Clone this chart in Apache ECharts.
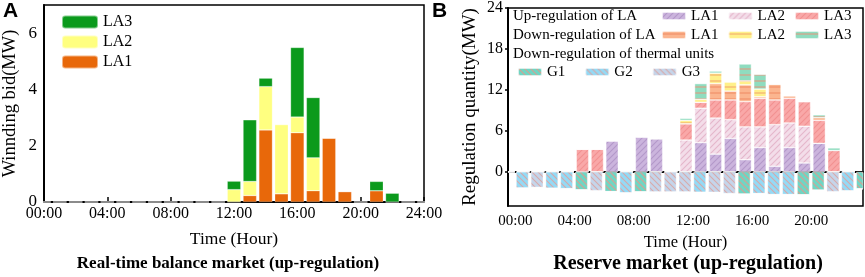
<!DOCTYPE html>
<html>
<head>
<meta charset="utf-8">
<script src="https://cdn.jsdelivr.net/npm/echarts@6/dist/echarts.min.js"></script>
<style>html,body{margin:0;padding:0;background:#fff}#chart{width:865px;height:277px}</style>
</head>
<body>
<div id="chart"></div>
<script>
"use strict";
/*global echarts*/

// A: real-time balance market, winning bids (MW) per hour
var bidHours = [12, 13, 14, 15, 16, 17, 18, 19, 20, 21, 22];
var bidLA1 = [0, 0.23, 2.56, 0.29, 2.46, 0.40, 2.27, 0.37, 0, 0.40, 0];
var bidLA2 = [0.44, 0.50, 1.54, 2.46, 0.56, 1.17, 0, 0, 0, 0, 0];
var bidLA3 = [0.30, 2.19, 0.30, 0, 2.47, 2.14, 0, 0, 0, 0.33, 0.31];

// B: reserve market, one bar per hour
var hourLabels = ["00:00", "01:00", "02:00", "03:00", "04:00", "05:00", "06:00", "07:00",
  "08:00", "09:00", "10:00", "11:00", "12:00", "13:00", "14:00", "15:00",
  "16:00", "17:00", "18:00", "19:00", "20:00", "21:00", "22:00", "23:00"];
var upLA1 = [0, 0, 0, 0, 0, 0, 0, 4.56, 0, 5.14, 4.86, 0, 0, 4.28, 2.6, 4.9, 1.78, 3.56, 0.82, 3.56, 1.3, 4.18, 0, 0];
var upLA2 = [0, 0, 0, 0, 0, 0, 0, 0, 0, 0, 0, 0, 4.66, 5.04, 5.28, 2.75, 4.81, 3.03, 6.1, 3.6, 5.38, 0, 0, 0];
var upLA3 = [0, 0, 0, 0, 0, 3.32, 3.32, 0, 0, 0, 0, 0, 2.38, 0.87, 2.65, 2.88, 3.7, 4.18, 3.61, 3.61, 3.61, 3.37, 3.13, 0];
var downLA1 = [0, 0, 0, 0, 0, 0, 0, 0, 0, 0, 0, 0, 0, 0, 2.4, 1.3, 2.45, 0.23, 2.31, 0.38, 0, 0.4, 0, 0];
var downLA2 = [0, 0, 0, 0, 0, 0, 0, 0, 0, 0, 0, 0, 0.5, 0.43, 1.53, 1.34, 0.58, 1.12, 0, 0, 0, 0, 0, 0];
var downLA3 = [0, 0, 0, 0, 0, 0, 0, 0, 0, 0, 0, 0, 0.3, 2.31, 0.3, 0, 2.48, 2.16, 0, 0, 0, 0.4, 0.38, 0];
var downG1 = [0, 0, 0, 0, -2.65, 0, -2.89, 0, -2.94, 0, 0, 0, 0, 0, 0, -3.27, 0, 0, 0, -3.37, -2.69, 0, 0, -2.5];
var downG2 = [-2.37, 0, -2.4, -2.46, 0, 0, 0, -3.08, 0, 0, 0, 0, -2.99, 0, 0, 0, -3.17, -3.32, -3.32, 0, 0, 0, -2.79, 0];
var downG3 = [0, -2.27, 0, 0, 0, -2.75, 0, 0, 0, -2.93, -2.93, -2.93, 0, -2.99, -3.17, 0, 0, 0, 0, 0, 0, -2.9, 0, 0];

var SERIF = "Liberation Serif";

// A 的横轴 00:00 ~ 24:00
var hourLabelsA = hourLabels.concat(["24:00"]);

//斜线/横线填充
function hatch(bg, line, dir) {
  var s = 6;
  var c = document.createElement("canvas");
  c.width = s;
  c.height = s;
  var g = c.getContext("2d");
  g.fillStyle = bg;
  g.fillRect(0, 0, s, s);
  g.strokeStyle = line;
  g.lineWidth = 1.1;
  g.beginPath();
  if (dir === "/") {
    g.moveTo(0, s); g.lineTo(s, 0);
    g.moveTo(-1, 1); g.lineTo(1, -1);
    g.moveTo(s - 1, s + 1); g.lineTo(s + 1, s - 1);
  } else if (dir === "\\") {
    g.moveTo(0, 0); g.lineTo(s, s);
    g.moveTo(s - 1, -1); g.lineTo(s + 1, 1);
    g.moveTo(-1, s - 1); g.lineTo(1, s + 1);
  } else {
    g.moveTo(0, s / 2); g.lineTo(s, s / 2);
  }
  g.stroke();
  return { image: c, repeat: "repeat" };
}

// 把稀疏的小时数据放到 25 个类目上
function spread(values) {
  var out = hourLabelsA.map(function () { return 0; });
  bidHours.forEach(function (h, i) { out[h] = values[i]; });
  return out;
}

function barA(name, data, color) {
  return {
    name: name, type: "bar", stack: "bid", xAxisIndex: 0, yAxisIndex: 0,
    barWidth: 13.5, data: spread(data),
    itemStyle: { color: color, borderColor: "rgba(255,255,255,0.5)", borderWidth: 0.5 }
  };
}

function barB(name, data, fill, stack) {
  return {
    name: name, type: "bar", stack: stack, xAxisIndex: 1, yAxisIndex: 1,
    barWidth: 12.5, data: data,
    itemStyle: { color: fill, borderColor: "rgba(255,255,255,0.7)", borderWidth: 0.6 }
  };
}

function initChart() {
  var myChart = echarts.init(document.getElementById("chart"), null, { renderer: "canvas" });
  var fontA = { fontFamily: SERIF, fontSize: 16, color: "#000" };
  var fontB = { fontFamily: SERIF, fontSize: 15, color: "#000" };
  var legendText = { fontFamily: SERIF, fontSize: 15, color: "#000" };
  var shortName = function (n) { return n.split(" ")[0]; };

  var option = {
    animation: false,
    textStyle: { fontFamily: SERIF },
    grid: [
      { left: 40, top: 5, width: 384, height: 197, show: true, borderColor: "#000", borderWidth: 1.5 },
      { left: 508, top: 5, width: 355, height: 201, show: true, borderColor: "#000", borderWidth: 1.5 }
    ],
    xAxis: [
      {
        gridIndex: 0, type: "category", data: hourLabelsA, boundaryGap: false,
        name: "Time (Hour)", nameLocation: "middle", nameGap: 28,
        nameTextStyle: { fontFamily: SERIF, fontSize: 17.5, color: "#000" },
        axisLine: { lineStyle: { color: "#000", width: 2 } },
        axisTick: { inside: true, length: 5, interval: 3, lineStyle: { color: "#000", width: 1.5 } },
        axisLabel: Object.assign({ margin: 4, interval: 3 }, fontA),
        splitLine: { show: false }
      },
      {
        gridIndex: 1, type: "category", data: hourLabels,
        name: "Time (Hour)", nameLocation: "middle", nameGap: 25,
        nameTextStyle: { fontFamily: SERIF, fontSize: 16.5, color: "#000" },
        axisLine: { lineStyle: { color: "#000", width: 2 } },
        axisTick: { inside: true, length: 6, alignWithLabel: true, interval: 3, lineStyle: { color: "#000", width: 1.5 } },
        axisLabel: Object.assign({ margin: 8, interval: 3 }, fontB)
      }
    ],
    yAxis: [
      {
        gridIndex: 0, type: "value", min: 0, max: 7,
        name: "Winnding bid(MW)", nameLocation: "middle", nameGap: 24,
        nameTextStyle: { fontFamily: SERIF, fontSize: 18.5, color: "#000" },
        axisLine: { show: true, lineStyle: { color: "#000", width: 2 } },
        axisTick: { show: false },
        axisLabel: Object.assign({ margin: 7, customValues: [0, 2, 4, 6] }, fontA, { fontSize: 17 }),
        splitLine: { show: false }
      },
      {
        gridIndex: 1, type: "value", min: -5, max: 24,
        name: "Regulation quantity(MW)", nameLocation: "middle", nameGap: 28,
        nameTextStyle: { fontFamily: SERIF, fontSize: 19, color: "#000" },
        axisLine: { show: true, lineStyle: { color: "#000", width: 2 } },
        axisTick: { show: true, length: 3, customValues: [0, 6, 12, 18, 24], lineStyle: { color: "#000", width: 1.5 } },
        axisLabel: Object.assign({ margin: 5, customValues: [0, 6, 12, 18, 24] }, fontB, { fontSize: 16 }),
        splitLine: { show: false }
      }
    ],
    legend: [
      {
        data: ["LA3", "LA2", "LA1"], orient: "vertical", left: 61, top: 14, padding: 0,
        itemWidth: 36, itemHeight: 13, itemGap: 4, textStyle: Object.assign({}, legendText, { fontSize: 16 })
      },
      {
        data: ["LA1 up", "LA2 up", "LA3 up"], left: 661, top: 8.5, padding: 0,
        itemWidth: 24, itemHeight: 8, itemGap: 9, textStyle: legendText, formatter: shortName
      },
      {
        data: ["LA1 down", "LA2 down", "LA3 down"], left: 661, top: 27.5, padding: 0,
        itemWidth: 24, itemHeight: 8, itemGap: 9, textStyle: legendText, formatter: shortName
      },
      {
        data: ["G1", "G2", "G3"], left: 517, top: 64.5, padding: 0,
        itemWidth: 24, itemHeight: 8, itemGap: 19, textStyle: legendText
      }
    ],
    graphic: [
      { type: "text", left: 3, top: 1, style: { text: "A", font: "bold 21px 'Liberation Sans'", fill: "#000" } },
      { type: "text", left: 432, top: 1, style: { text: "B", font: "bold 21px 'Liberation Sans'", fill: "#000" } },
      { type: "text", x: 228, y: 264, style: { text: "Real-time balance market (up-regulation)", font: "bold 17px '" + SERIF + "'", fill: "#000", align: "center", verticalAlign: "middle" } },
      { type: "text", x: 688, y: 264, style: { text: "Reserve market (up-regulation)", font: "bold 20px '" + SERIF + "'", fill: "#000", align: "center", verticalAlign: "middle" } },
      { type: "text", x: 513, y: 16, style: { text: "Up-regulation of LA", font: "15px '" + SERIF + "'", fill: "#000", verticalAlign: "middle" } },
      { type: "text", x: 513, y: 35, style: { text: "Down-regulation of LA", font: "15px '" + SERIF + "'", fill: "#000", verticalAlign: "middle" } },
      { type: "text", x: 513, y: 54, style: { text: "Down-regulation of thermal units", font: "15px '" + SERIF + "'", fill: "#000", verticalAlign: "middle" } }
    ],
    series: [
      barA("LA1", bidLA1, "#e8680a"),
      barA("LA2", bidLA2, "#ffff80"),
      barA("LA3", bidLA3, "#0b9a1c"),
      barB("LA1 up", upLA1, hatch("#cbb4dd", "#b398c9", "/"), "pos"),
      barB("LA2 up", upLA2, hatch("#f3dde9", "#e4b6cb", "/"), "pos"),
      barB("LA3 up", upLA3, hatch("#f9a8a8", "#f29191", "/"), "pos"),
      barB("LA1 down", downLA1, hatch("#fbb58f", "#f08c66", "-"), "pos"),
      barB("LA2 down", downLA2, hatch("#fff08a", "#f2ab6c", "-"), "pos"),
      barB("LA3 down", downLA3, hatch("#8fdcbf", "#e29a80", "-"), "pos"),
      barB("G1", downG1, hatch("#6fd6c4", "#d6a092", "\\"), "neg"),
      barB("G2", downG2, hatch("#94daf5", "#d6a8a8", "\\"), "neg"),
      barB("G3", downG3, hatch("#c5d5ea", "#d8aaaa", "\\"), "neg")
    ]
  };
  myChart.setOption(option);
  return myChart;
}

initChart();
</script>
</body>
</html>
